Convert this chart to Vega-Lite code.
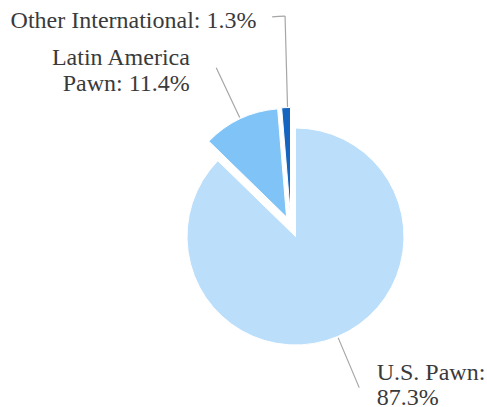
{
  "$schema": "https://vega.github.io/schema/vega-lite/v6.json",
  "width": 487,
  "height": 407,
  "padding": 0,
  "autosize": {"type": "fit", "contains": "padding"},
  "background": "white",
  "config": {"view": {"stroke": null}, "text": {"font": "Liberation Serif"}},
  "data": {
    "values": [
      {"cat": "U.S. Pawn", "value": 87.3, "label": "U.S. Pawn:\n87.3%"},
      {"cat": "Latin America Pawn", "value": 11.4, "label": "Latin America\nPawn: 11.4%"},
      {"cat": "Other International", "value": 1.3, "label": "Other International: 1.3%"}
    ]
  },
  "layer": [
    {
      "mark": {"type": "arc", "x": 295.5, "y": 236.5, "radius": 108.5, "stroke": "white", "strokeWidth": 1},
      "encoding": {
        "theta": {"field": "value", "type": "quantitative", "stack": true, "scale": {"domain": [0, 100]}},
        "order": {"field": "value", "sort": "descending"},
        "color": {"field": "cat", "type": "nominal", "legend": null, "scale": {"domain": ["U.S. Pawn", "Latin America Pawn", "Other International"], "range": ["#bbdefb", "#7fc3f7", "#1565c0"]}},
        "opacity": {"condition": {"test": "datum.cat == 'U.S. Pawn'", "value": 1}, "value": 0}
      }
    },
    {
      "mark": {"type": "arc", "x": 286.5, "y": 217, "radius": 108.5, "stroke": "white", "strokeWidth": 1},
      "encoding": {
        "theta": {"field": "value", "type": "quantitative", "stack": true, "scale": {"domain": [0, 100]}},
        "order": {"field": "value", "sort": "descending"},
        "color": {"field": "cat", "type": "nominal", "legend": null},
        "opacity": {"condition": {"test": "datum.cat == 'Latin America Pawn'", "value": 1}, "value": 0}
      }
    },
    {
      "mark": {"type": "arc", "x": 290.5, "y": 216, "radius": 108.5, "stroke": "white", "strokeWidth": 1},
      "encoding": {
        "theta": {"field": "value", "type": "quantitative", "stack": true, "scale": {"domain": [0, 100]}},
        "order": {"field": "value", "sort": "descending"},
        "color": {"field": "cat", "type": "nominal", "legend": null},
        "opacity": {"condition": {"test": "datum.cat == 'Other International'", "value": 1}, "value": 0}
      }
    },
    {
      "transform": [
        {"window": [{"op": "sum", "field": "value", "as": "cum"}], "sort": [{"field": "value", "order": "descending"}], "frame": [null, 0]},
        {"calculate": "datum.cum - datum.value / 2", "as": "mid"}
      ],
      "layer": [
        {
          "transform": [{"filter": "datum.cat == 'Other International'"}],
          "mark": {"type": "arc", "x": 290.5, "y": 216, "radius": 200, "radius2": 109, "thetaOffset": 0.0136, "theta2Offset": 0.0136, "stroke": "#a6a6a6", "strokeWidth": 1.2, "fill": null},
          "encoding": {
            "theta": {"field": "mid", "type": "quantitative", "stack": null, "scale": {"domain": [0, 100]}},
            "theta2": {"field": "mid"}
          }
        },
        {
          "transform": [{"filter": "datum.cat == 'Other International'"}],
          "mark": {"type": "arc", "x": 290.5, "y": 216, "radius": 200, "radius2": 200, "thetaOffset": -0.0511, "theta2Offset": 0.0136, "stroke": "#a6a6a6", "strokeWidth": 1.2, "fill": null},
          "encoding": {
            "theta": {"field": "mid", "type": "quantitative", "stack": null, "scale": {"domain": [0, 100]}},
            "theta2": {"field": "mid"}
          }
        },
        {
          "transform": [{"filter": "datum.cat == 'Latin America Pawn'"}],
          "mark": {"type": "arc", "x": 286.5, "y": 217, "radius": 165, "radius2": 110, "stroke": "#a6a6a6", "strokeWidth": 1.2, "fill": null},
          "encoding": {
            "theta": {"field": "mid", "type": "quantitative", "stack": null, "scale": {"domain": [0, 100]}},
            "theta2": {"field": "mid"}
          }
        },
        {
          "transform": [{"filter": "datum.cat == 'U.S. Pawn'"}],
          "mark": {"type": "arc", "x": 295.5, "y": 236.5, "radius": 164, "radius2": 110, "stroke": "#a6a6a6", "strokeWidth": 1.2, "fill": null},
          "encoding": {
            "theta": {"field": "mid", "type": "quantitative", "stack": null, "scale": {"domain": [0, 100]}},
            "theta2": {"field": "mid"}
          }
        },
        {
          "transform": [{"filter": "datum.cat == 'Other International'"}],
          "mark": {"type": "text", "x": 295.5, "y": 236.5, "radius": 220, "align": "right", "baseline": "alphabetic", "dx": -30, "dy": 11, "font": "Liberation Serif", "fontSize": 24, "color": "#3a3a3a", "lineBreak": "\n", "lineHeight": 26},
          "encoding": {
            "theta": {"field": "mid", "type": "quantitative", "stack": null, "scale": {"domain": [0, 100]}},
            "text": {"field": "label"}
          }
        },
        {
          "transform": [{"filter": "datum.cat == 'Latin America Pawn'"}],
          "mark": {"type": "text", "x": 295.5, "y": 236.5, "radius": 180, "align": "right", "baseline": "alphabetic", "dx": -29, "dy": -9, "font": "Liberation Serif", "fontSize": 24, "color": "#3a3a3a", "lineBreak": "\n", "lineHeight": 26},
          "encoding": {
            "theta": {"field": "mid", "type": "quantitative", "stack": null, "scale": {"domain": [0, 100]}},
            "text": {"field": "label"}
          }
        },
        {
          "transform": [{"filter": "datum.cat == 'U.S. Pawn'"}],
          "mark": {"type": "text", "x": 295.5, "y": 236.5, "radius": 160, "align": "left", "baseline": "alphabetic", "dx": 19, "dy": -4, "font": "Liberation Serif", "fontSize": 24, "color": "#3a3a3a", "lineBreak": "\n", "lineHeight": 25},
          "encoding": {
            "theta": {"field": "mid", "type": "quantitative", "stack": null, "scale": {"domain": [0, 100]}},
            "text": {"field": "label"}
          }
        }
      ]
    }
  ]
}
